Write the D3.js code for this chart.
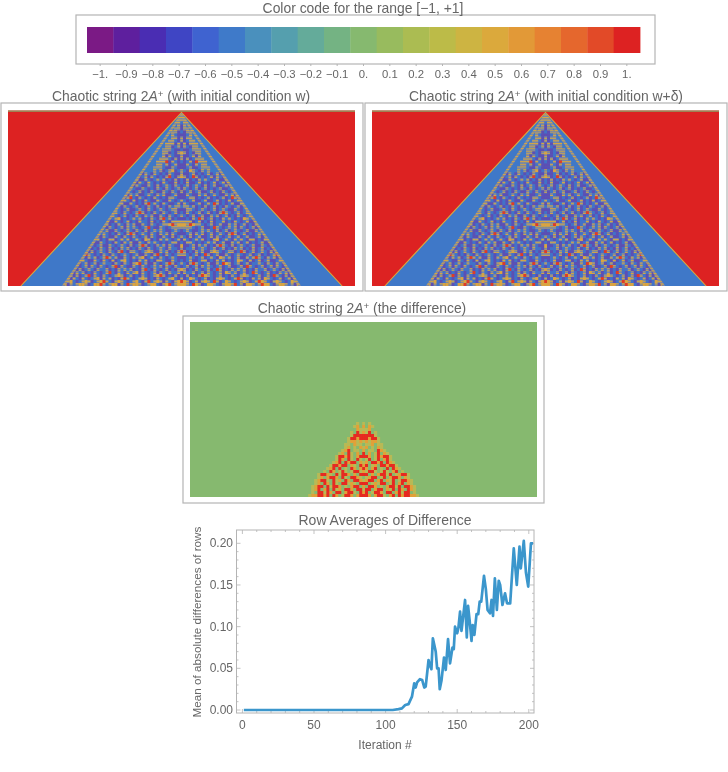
<!DOCTYPE html>
<html><head><meta charset="utf-8">
<script src="https://d3js.org/d3.v7.min.js"></script>
<style>html,body{margin:0;padding:0;background:#fff}svg{display:block}text{font-family:"Liberation Sans",Arial,sans-serif;fill:#666}</style>
</head><body><svg id="c" width="728" height="772"></svg>
<script>
const codeLabels=["−1.","−0.9","−0.8","−0.7","−0.6","−0.5","−0.4","−0.3","−0.2","−0.1","0.","0.1","0.2","0.3","0.4","0.5","0.6","0.7","0.8","0.9","1."];
const codeColors=["#7b1a85","#5e1f9e","#4a2db3","#3f45c4","#3f63d0","#3f7ac9","#4a90bd","#559fae","#64ab9a","#74b383","#86b96f","#98bb5e","#abbc52","#bcbb48","#cdb442","#dba93c","#e29937","#e68232","#e5672d","#e24a28","#dd2222"];

// chaotic cone in coarse blocks: each row runs from the axis of the cone outwards
const chaosRows=["t","t","tt","bt","pt","ptt","bptt","ppbt","tptt","tpbtt","ptpttt","ptbptt","bppbttt","otpbptt","tppbtpt","tptpbttt","bpbtprttt","pptbptbtt","ppbtppbttt","tbpotbptbt",
"tppbtpbpbtpbtpbpt","otpbrtpbpbtptbpbp","bptpbptbtbpbtpptbt","bptppbtpbpbtpbtppb","pbtpbtbptpbtppbtpbp","ptbpbtpbtpbpbtppbtpb","tpbtpbtppbtpbptbpbtp","pptbpptbtpbtbpptbtpbt","ppbttpbpbtpbpbtpbrtpbp","tbpbtppbtppbtpbptpbtpb",
"ptbppbtpbtbrtpbpbtpptbp","bttbtpbptpbtpbptbpbtpbpb","ppttbpbtbpbtpbtbpptbpbtpb","bptbpbtpbtpbptrtbpbtpbtppb","tbpbtpbtpptbtpbtpbptbpbtpp","ppbptbrtpbtpbptbtbpbpotbpbt","ttttpbtpbptpbbtpbptbpbtpptbp","ootrottbpbtpbtpptbtpbtpbptbpb","ttttbpbtppbrtbpbtbtptbpbtpbtpp","pbtbppbtbtbptpbtpbtbpbtpptbpbtp",
"ppbtptbtpbtpbtbptrtpbtpbpbtbptpb","tbptpbtppbtptbpbtpbtpbtppbtpbptbp","ptbpbtbtpbptopbtbptbtbpttpbptbtpbp","bpttbpbpbtbtpbtpptbtpbtpbpbtpptbpbt","oppbtptbtpbptrtbptpbtbpbtpptbpbtpbtp","tpbbtpbtbpbtpbtpbptbtpbptpbtpbpbtpbtp","rtpbptbtpptotbpbttpbrtpbtpbtbptpbtppbt","ttbpbtpbrtpbtpptbpbtbpbtpbtpbpbtrtpbptb","ppbtbpbtpbtbpotbtpbtpptbtrtbptbtpbpbtpbt","bpbtppbttpbptbtpbpbotbptpbtpbtppbtpbptbpb",
"tbptrtbpbtpptbrotpbtpbtpbbtbptbptbpotpbtpb","pbtpbtptbtbpbtpbtppbtprtbpbtpbtptbpbtpbptb","otpbptbpbtpbrtpbptbtbtpbptbbtpbtbptpbrtpbtp","ptbbtpbtptbpbtpotbtpbtpbrtbpbtpbptbtpbtpbpb","bptpbptrotbpbtpbptbptotbpbtpbtprtbptptbpbtpb","tpbotbpbtpbptotbpbtrtpbptbtpotbpbtpbtptpbptbt","rotpbtptotbrtpbotbpbtotpbtrotbptotbpbotptbotpb","ootbrotpbootbptootrbtpootbtroobptootbtpootbtro"];

// difference cone, same reading
const diffRows=["ygy","ogoy","yyog","oyrgy","rrrry","rrorry","yoyooy","gyyogyy","yogygoy","ogyygroy","rgogyrgoy","rrogyrorry","gyrgyrgory","yogrrorgroy","orgyogrrorry","rogorgygrgroy","oyrrygyrygorgy","rrgogorryrgyorry","gyorrgyrgorrogoy","yorrgorgoyrgyrroy","rrgyoyrrgyrgorgoy","ogrrogygorryrgrroy","yrrgorrgoyrgrogroy","orgyrrogrrgoryrrgy","rrogorrygorgrorrooy"];

const chaosBands={base:"#dd2222",wedge:"#3f78c8",rim:"#dba93c",seed:"#8f9a62"};
const stripeCols=["#dba93c","#7a86a8"];
const chaosCells={r:"#e03a28",o:"#d9a442",t:"url(#stripes)",b:"#4372c8",p:"#5c4fb4"};
const diffBase="#86b96f";
const diffCells={g:"#86b96f",y:"#b8b955",o:"#e2a038",r:"#e62a20"};

const rowTotal=58, colTotal=58;
const outerEdge=[[0,0],[58,53.7]];
const innerEdge=[[0,0],[58,40]];

const iterations=[1,20,40,60,80,100,105,109,111.4,113.7,116,118.4,120,121,122,124,125.5,127,128,130,131,132,133,135,136,137,137.8,139,140.8,142,143.6,145,146.7,147.6,148.5,150,150.8,152,153,155.5,156.7,157.6,158.8,160,160.8,162,163.5,164.7,165.7,166.8,168.7,170,171.2,172.9,174,175,176.3,177.7,179,180,181.6,183.4,184.8,187,189.5,191.6,193.5,194.4,196.5,198,199.6,201.5,203];
const means=[0,0,0,0,0,0,0,0.001,0.002,0.006,0.007,0.016,0.032,0.027,0.033,0.037,0.036,0.027,0.028,0.06,0.053,0.049,0.086,0.07,0.05,0.05,0.025,0.035,0.063,0.048,0.085,0.056,0.075,0.073,0.1,0.092,0.098,0.118,0.095,0.132,0.087,0.125,0.105,0.083,0.102,0.09,0.115,0.115,0.13,0.13,0.161,0.145,0.12,0.116,0.132,0.113,0.158,0.12,0.155,0.15,0.126,0.14,0.128,0.128,0.194,0.15,0.196,0.17,0.203,0.165,0.148,0.2,0.2];
const xTicks=[0,50,100,150,200], yTicks=[0,0.05,0.1,0.15,0.2];

const svg=d3.select("#c");
const defs=svg.append("defs");
defs.append("filter").attr("id","blob").attr("x","-5%").attr("y","-5%").attr("width","110%").attr("height","110%")
  .append("feGaussianBlur").attr("stdDeviation",0.6);
defs.append("filter").attr("id","txt").append("feGaussianBlur").attr("stdDeviation",0.3);
const stripe=defs.append("pattern").attr("id","stripes").attr("patternUnits","userSpaceOnUse").attr("width",4).attr("height",2.6);
stripe.append("rect").attr("width",4).attr("height",1.3).attr("fill",stripeCols[0]);
stripe.append("rect").attr("y",1.3).attr("width",4).attr("height",1.3).attr("fill",stripeCols[1]);
const frameCol="#b4b4b4";

function frame(x0,y0,x1,y1){
  svg.append("rect").attr("x",x0).attr("y",y0).attr("width",x1-x0).attr("height",y1-y0)
    .attr("fill","#fff").attr("stroke",frameCol).attr("stroke-width",1.2);
}
function title(cx,cy,size,parts){
  const t=svg.append("text").attr("x",cx).attr("y",cy).attr("text-anchor","middle").attr("font-size",size).attr("filter","url(#txt)");
  parts.forEach(p=>{
    const s=t.append("tspan").text(p.t);
    if(p.i) s.attr("font-style","italic");
    if(p.s) s.attr("dy",-4).attr("font-size",size*0.7);
    if(p.after) s.attr("dy",4);
  });
}

// colour code
frame(76,15,655,64);
const codeX=d3.scaleBand().domain(codeLabels).range([87,640]);
svg.append("g").selectAll("rect").data(codeLabels).join("rect")
  .attr("x",d=>codeX(d)).attr("y",27).attr("width",codeX.bandwidth()+0.4).attr("height",26)
  .attr("fill",(d,i)=>codeColors[i]);
svg.append("g").selectAll("line").data(codeLabels).join("line")
  .attr("x1",d=>codeX(d)+codeX.bandwidth()/2).attr("x2",d=>codeX(d)+codeX.bandwidth()/2)
  .attr("y1",64).attr("y2",66).attr("stroke",frameCol);
svg.append("g").attr("filter","url(#txt)").selectAll("text").data(codeLabels).join("text")
  .attr("x",d=>codeX(d)+codeX.bandwidth()/2).attr("y",78).attr("text-anchor","middle").attr("font-size",11.3).text(d=>d);
title(363,13,13.9,[{t:"Color code for the range [−1, +1]"}]);

function chaos(x0,x1,y0,y1){
  const x=d3.scaleLinear().domain([-colTotal,colTotal]).range([x0,x1]);
  const y=d3.scaleLinear().domain([0,rowTotal]).range([y0,y1]);
  const g=svg.append("g");
  g.append("rect").attr("x",x0).attr("y",y0-2).attr("width",x1-x0).attr("height",y1-y0+2).attr("fill",chaosBands.base);
  g.append("rect").attr("x",x0).attr("y",y0-2).attr("width",x1-x0).attr("height",1.3).attr("fill",chaosBands.seed);
  const poly=e=>{
    const [a,b]=e;
    return d3.line().x(d=>x(d[0])).y(d=>y(d[1]))([[0,a[0]],[b[1],b[0]],[-b[1],b[0]]])+"Z";
  };
  g.append("path").attr("d",poly(outerEdge)).attr("fill",chaosBands.wedge);
  const side=e=>d3.line().x(d=>x(d[0])).y(d=>y(d[1]))([[-e[1][1],e[1][0]],[0,0],[e[1][1],e[1][0]]]);
  g.append("path").attr("d",side(outerEdge)).attr("fill","none").attr("stroke",chaosBands.rim).attr("stroke-width",1.1).attr("filter","url(#txt)");
  const id="cl"+x0;
  svg.select("defs").append("clipPath").attr("id",id).append("path").attr("d",poly(innerEdge));
  const cells=g.append("g").attr("clip-path",`url(#${id})`);
  const flat=[];
  chaosRows.forEach((row,r)=>[...row].forEach((ch,c)=>{flat.push({r,c,ch,s:1});if(c>0)flat.push({r,c,ch,s:-1});}));
  const inner=cells.append("g").attr("filter","url(#txt)");
  inner.selectAll("rect").data(flat).join("rect")
    .attr("x",d=>x(d.s>0?d.c-0.5:-d.c-0.5)).attr("y",d=>y(d.r))
    .attr("width",x(1)-x(0)+0.2).attr("height",y(1)-y(0)+0.2)
    .attr("fill",d=>chaosCells[d.ch]);
  inner.append("path").attr("d",side(innerEdge)).attr("fill","none").attr("stroke",chaosCells.t).attr("stroke-width",5);
}
frame(1,103,363,291);
chaos(8,355,112.5,286);
title(181,101,13.9,[{t:"Chaotic string 2"},{t:"A",i:1},{t:"+",s:1},{t:" (with initial condition w)",after:1}]);
frame(365,103,727,291);
chaos(372,719,112.5,286);
title(546,101,13.9,[{t:"Chaotic string 2"},{t:"A",i:1},{t:"+",s:1},{t:" (with initial condition w+δ)",after:1}]);

// difference
frame(183,316,544,503);
(function(){
  const x0=190,x1=537,y0=322,y1=497;
  const x=d3.scaleLinear().domain([-colTotal,colTotal]).range([x0,x1]);
  const y=d3.scaleLinear().domain([rowTotal-diffRows.length,rowTotal]).range([422,y1]);
  const id="diffclip";
  svg.select("defs").append("clipPath").attr("id",id).append("rect").attr("x",x0).attr("y",y0).attr("width",x1-x0).attr("height",y1-y0);
  const g=svg.append("g").attr("clip-path",`url(#${id})`);
  g.append("rect").attr("x",x0).attr("y",y0).attr("width",x1-x0).attr("height",y1-y0).attr("fill",diffBase);
  const flat=[];
  diffRows.forEach((row,r)=>[...row].forEach((ch,c)=>{flat.push({r,c,ch,s:1});if(c>0)flat.push({r,c,ch,s:-1});}));
  const rowBase=rowTotal-diffRows.length;
  g.append("g").attr("filter","url(#blob)").selectAll("rect").data(flat).join("rect")
    .attr("x",d=>x(d.s>0?d.c-0.5:-d.c-0.5)).attr("y",d=>y(rowBase+d.r))
    .attr("width",x(1)-x(0)+0.2).attr("height",y(1)-y(0)+0.2)
    .attr("fill",d=>diffCells[d.ch]);
})();
title(362,313,13.9,[{t:"Chaotic string 2"},{t:"A",i:1},{t:"+",s:1},{t:" (the difference)",after:1}]);

// line chart
const px0=236.5,px1=534,py0=713,py1=530;
const X=d3.scaleLinear().domain([0,200]).range([242.4,528.8]);
const Y=d3.scaleLinear().domain([0,0.2]).range([710,543.3]);
const minorX=d3.range(0,201,10), minorY=d3.range(0,21).map(d=>d/100);
const tg=svg.append("g").attr("stroke",frameCol).attr("stroke-width",0.8);
minorX.forEach(v=>{const L=v%50===0?4:2;
  tg.append("line").attr("x1",X(v)).attr("x2",X(v)).attr("y1",py0).attr("y2",py0-L);
  tg.append("line").attr("x1",X(v)).attr("x2",X(v)).attr("y1",py1).attr("y2",py1+L);});
minorY.forEach(v=>{const L=Math.round(v*100)%5===0?4:2;
  tg.append("line").attr("y1",Y(v)).attr("y2",Y(v)).attr("x1",px0).attr("x2",px0+L);
  tg.append("line").attr("y1",Y(v)).attr("y2",Y(v)).attr("x1",px1).attr("x2",px1-L);});
svg.append("rect").attr("x",px0).attr("y",py1).attr("width",px1-px0).attr("height",py0-py1).attr("fill","none").attr("stroke",frameCol).attr("stroke-width",1);
svg.append("path").datum(d3.zip(iterations,means)).attr("fill","none").attr("stroke","#3b96cc").attr("stroke-width",2.7).attr("stroke-linejoin","round").attr("filter","url(#txt)")
  .attr("d",d3.line().x(d=>X(d[0])).y(d=>Y(d[1])));
const lab=svg.append("g").attr("filter","url(#txt)");
lab.selectAll(".x").data(xTicks).join("text").attr("class","x").attr("x",d=>X(d)).attr("y",729).attr("text-anchor","middle").attr("font-size",12).text(d=>d);
lab.selectAll(".y").data(yTicks).join("text").attr("class","y").attr("x",233).attr("y",d=>Y(d)+4).attr("text-anchor","end").attr("font-size",12).text(d=>d.toFixed(2));
lab.append("text").attr("x",385).attr("y",749).attr("text-anchor","middle").attr("font-size",12).text("Iteration #");
lab.append("text").attr("transform","translate(201,622) rotate(-90)").attr("text-anchor","middle").attr("font-size",11.7).text("Mean of absolute differences of rows");
title(385,525,14,[{t:"Row Averages of Difference"}]);
</script></body></html>
